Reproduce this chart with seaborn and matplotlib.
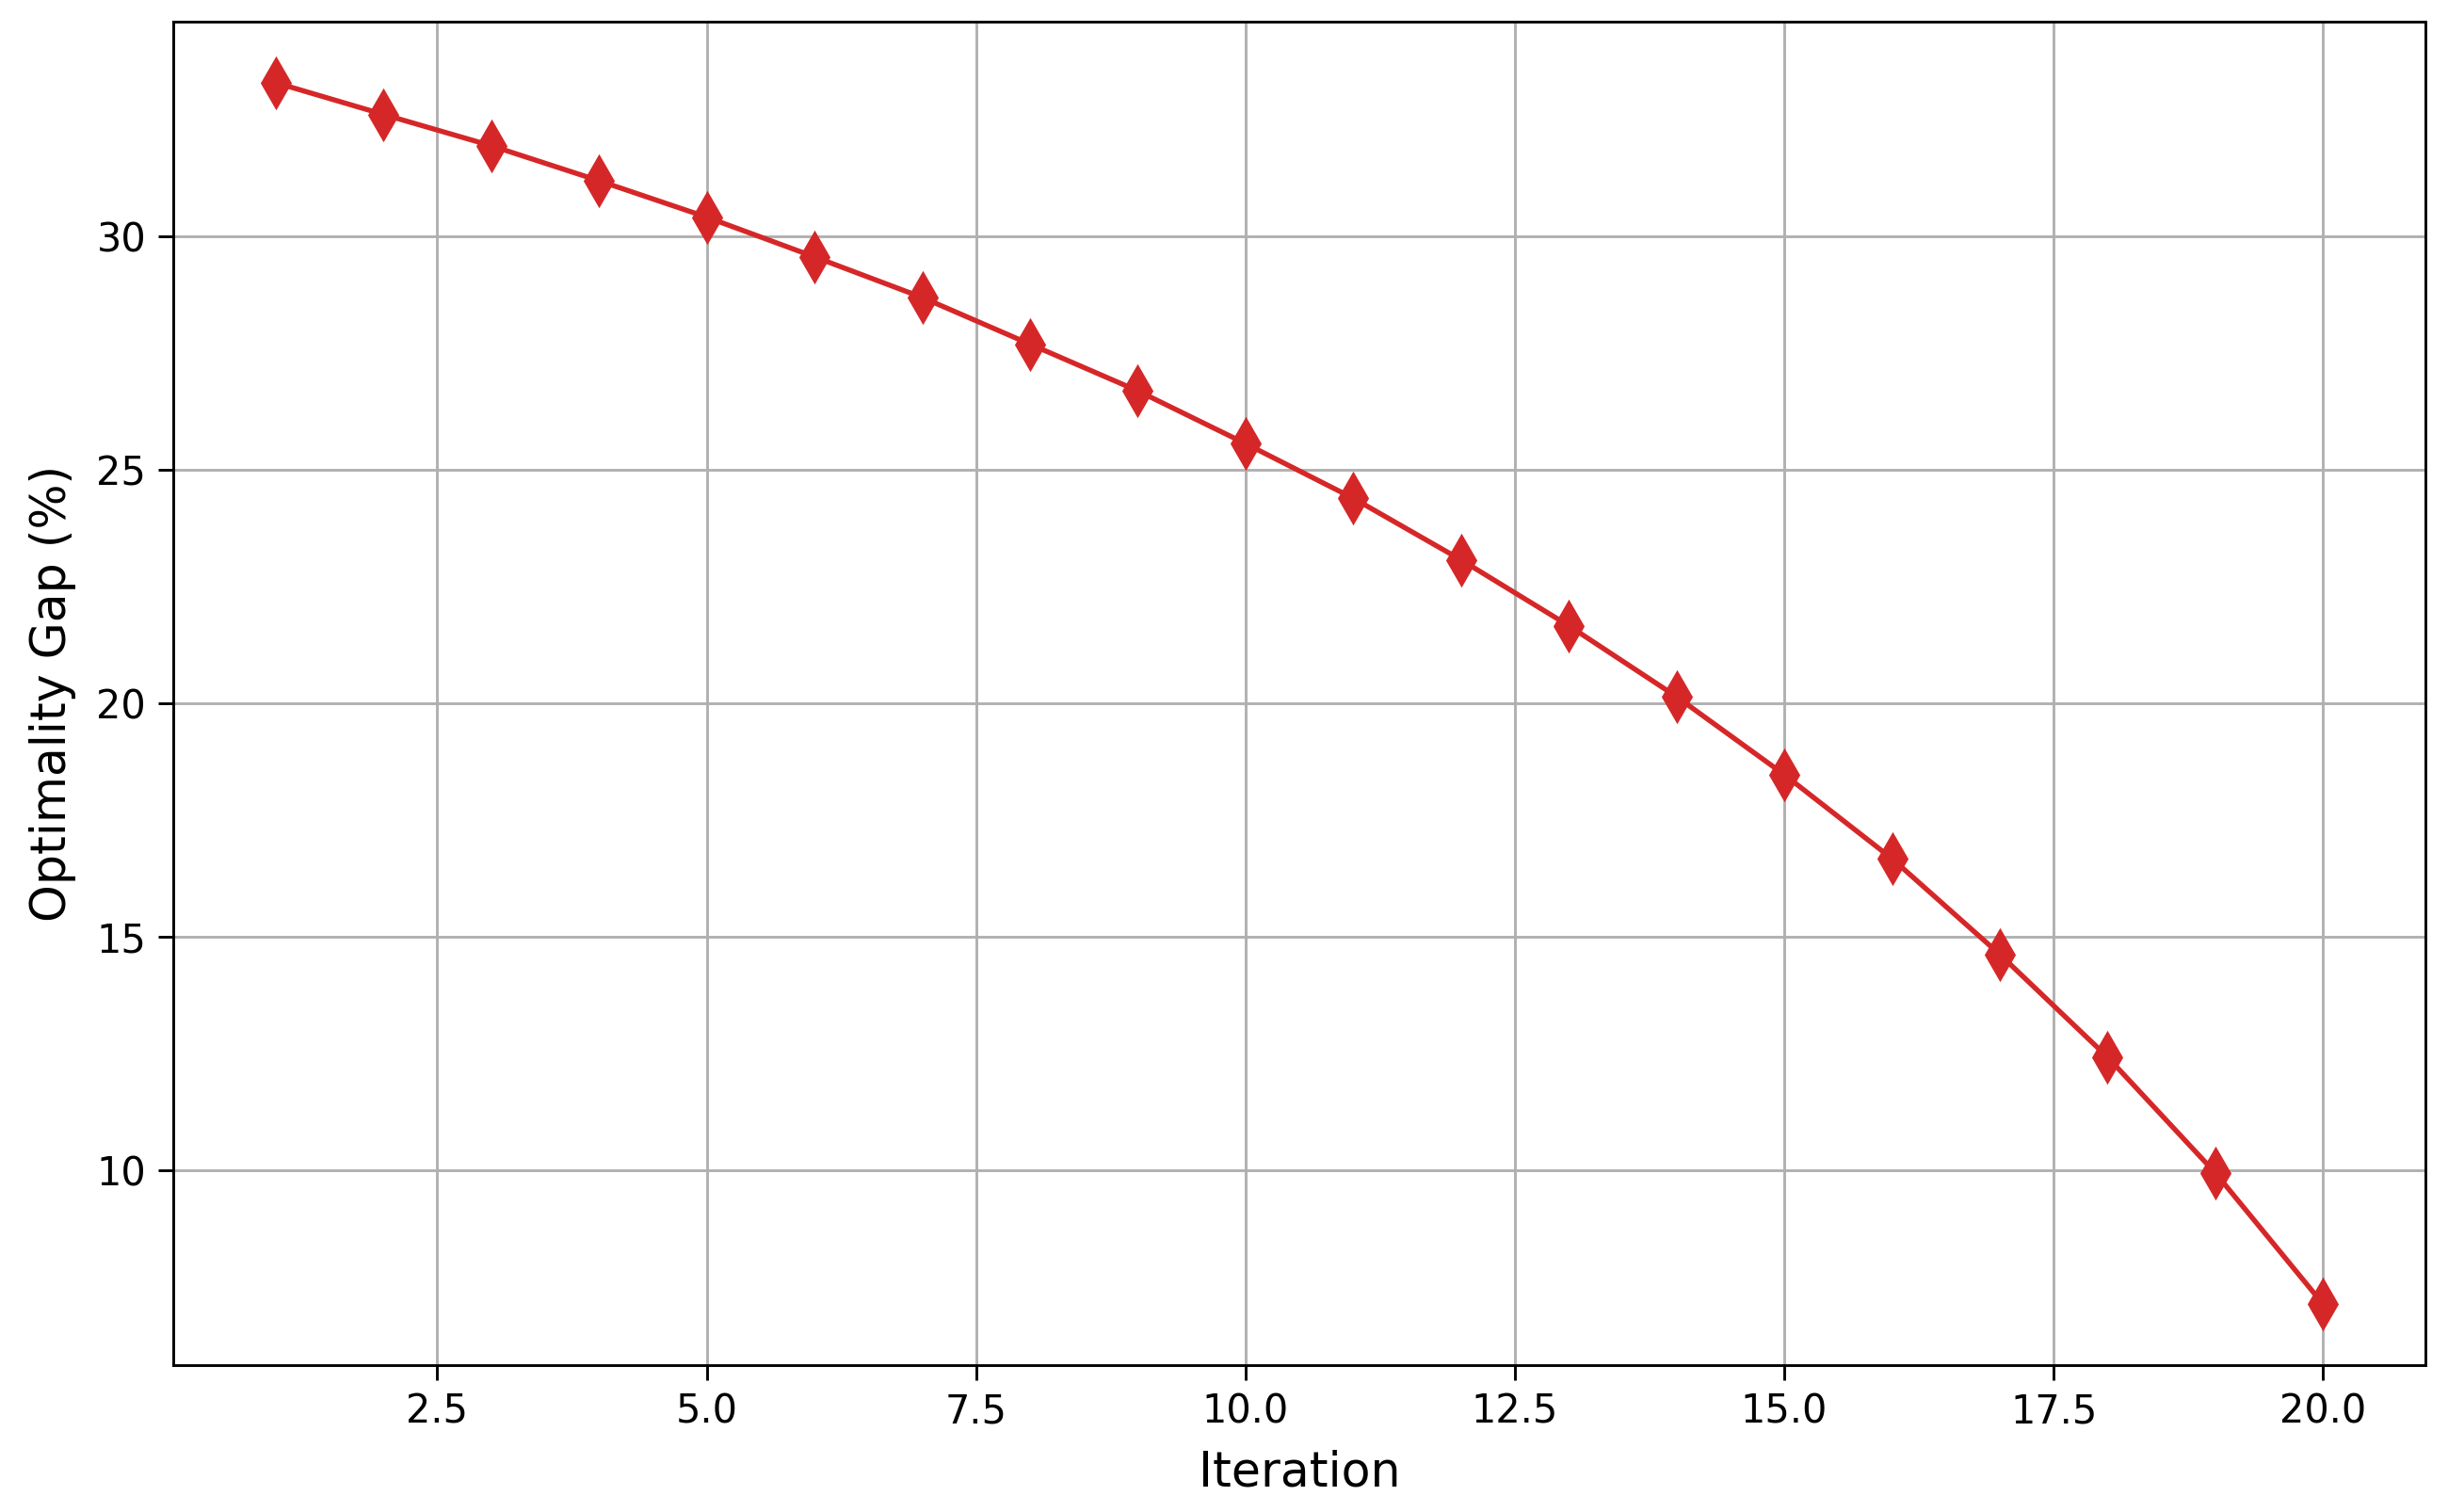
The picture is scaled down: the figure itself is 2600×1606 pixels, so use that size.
import matplotlib
matplotlib.use("Agg")
import matplotlib.pyplot as plt
import pandas as pd
import seaborn as sns

# values
iterations = list(range(1, 21))
gap = [33.30, 32.62, 31.95, 31.20, 30.42, 29.57, 28.70, 27.70, 26.70, 25.57,
       24.40, 23.08, 21.67, 20.15, 18.48, 16.68, 14.63, 12.43, 9.95, 7.14]

df = pd.DataFrame({"Iteration": iterations, "gap": gap})

sns.set_style("ticks")
plt.rcParams['font.family'] = ['DejaVu Sans']
plt.rcParams['text.color'] = 'black'
plt.rcParams['axes.labelcolor'] = 'black'
plt.rcParams['xtick.color'] = 'black'
plt.rcParams['ytick.color'] = 'black'

fig, ax = plt.subplots(figsize=(10, 6.177), dpi=260)
fig.subplots_adjust(left=0.0708, right=0.9908, bottom=0.0971, top=0.9857)

sns.lineplot(data=df, x="Iteration", y="gap", ax=ax, color="#d62728",
             marker="d", markersize=10, markeredgecolor="#d62728",
             linewidth=1.5)

ax.grid(True, color="#b0b0b0", linewidth=0.8)
ax.set_axisbelow(True)
for s in ax.spines.values():
    s.set_visible(True)
    s.set_color("black")
    s.set_linewidth(0.8)
ax.tick_params(labelsize=11.5, length=4.5, width=0.8, color="black",
               labelcolor="black")
ax.set_xlabel("Iteration", fontsize=14, labelpad=5)
ax.set_ylabel("Optimality Gap (%)", fontsize=14, labelpad=6)
ax.margins(x=0.05, y=0.05)

plt.savefig("out.png", dpi=260)
plt.close()
